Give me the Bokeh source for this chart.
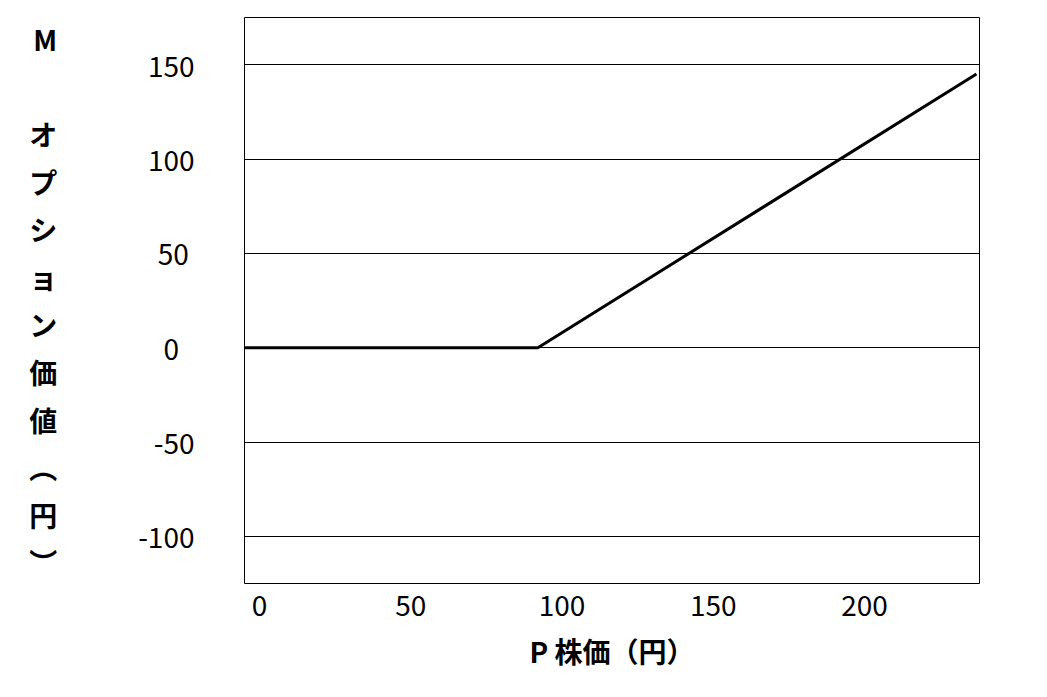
from bokeh.plotting import figure
from bokeh.models import FixedTicker
from bokeh.embed import file_html
from bokeh.resources import INLINE

# ---- data ----
stock_price = [-5, 92, 237]
option_value = [0, 0, 145]
x_ticks = [0, 50, 100, 150, 200]
y_ticks = [-100, -50, 0, 50, 100, 150]
y_tick_labels = ["-100", "-50", "0", "50", "100", "150"]
x_title = "P 株価（円）"
y_title_chars = ["M", "", "オ", "プ", "シ", "ョ", "ン", "価", "値", "︵", "円", "︶"]

FONT = "Noto Sans CJK JP"

# trailing padding so right-aligned tick labels look centred like the reference
PAD = {"0": "\u2007", "50": "\u2009"}

p = figure(width=1047, height=697, x_range=(-5, 238), y_range=(-125, 175),
           output_backend="svg", toolbar_location=None,
           min_border_left=244, min_border_right=68,
           min_border_top=17, min_border_bottom=114)

p.line(stock_price, option_value, line_color="black", line_width=3)

# grid
p.xgrid.visible = False
p.ygrid.grid_line_color = "black"
p.ygrid.grid_line_width = 1
p.outline_line_color = "black"
p.outline_line_width = 1

# x axis
p.xaxis.ticker = FixedTicker(ticks=x_ticks)
p.xaxis.axis_line_color = None
p.xaxis.major_tick_line_color = None
p.xaxis.minor_tick_line_color = None
p.xaxis.major_label_text_font = FONT
p.xaxis.major_label_text_font_size = "28px"
p.xaxis.major_label_text_color = "black"
p.xaxis.major_label_standoff = 5
p.xaxis.axis_label = x_title
p.xaxis.axis_label_text_font = FONT
p.xaxis.axis_label_text_font_size = "28px"
p.xaxis.axis_label_text_font_style = "bold"
p.xaxis.axis_label_text_color = "black"
p.xaxis.axis_label_standoff = 12

# y axis
p.yaxis.ticker = FixedTicker(ticks=y_ticks)
p.yaxis.major_label_overrides = {v: t + PAD.get(t, "") for v, t in zip(y_ticks, y_tick_labels)}
p.yaxis.axis_line_color = None
p.yaxis.major_tick_line_color = None
p.yaxis.minor_tick_line_color = None
p.yaxis.major_label_text_font = FONT
p.yaxis.major_label_text_font_size = "28px"
p.yaxis.major_label_text_color = "black"
p.yaxis.major_label_standoff = 44
p.yaxis.axis_label = "\n".join(y_title_chars)
p.yaxis.axis_label_orientation = "horizontal"
p.yaxis.axis_label_text_font = FONT
p.yaxis.axis_label_text_font_size = "28px"
p.yaxis.axis_label_text_font_style = "bold"
p.yaxis.axis_label_text_color = "black"
p.yaxis.axis_label_text_line_height = 1.19
p.yaxis.axis_label_standoff = 78

open("out.html", "w").write(file_html(p, INLINE))
